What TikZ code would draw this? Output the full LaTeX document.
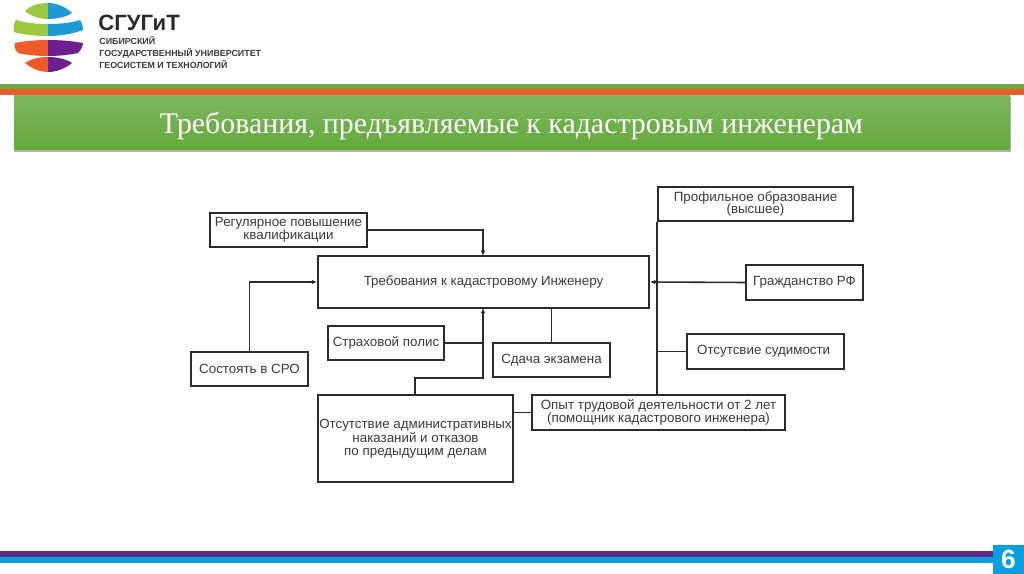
\documentclass[tikz,border=0pt]{standalone}
\usepackage{fontspec}
\setmainfont{Liberation Sans}
\newfontfamily\titlefont{Liberation Serif}
\usepackage{xcolor}
\usetikzlibrary{arrows.meta}
\definecolor{sgLime}{HTML}{9CC93E}
\definecolor{sgSky}{HTML}{1C9AD6}
\definecolor{sgOrange}{HTML}{EE5A28}
\definecolor{sgPurple}{HTML}{6E1F8F}
\definecolor{sgGreen}{HTML}{6AAB45}
\definecolor{sgGreenTop}{HTML}{7DB75F}
\definecolor{sgGreenLow}{HTML}{63A93A}
\definecolor{sgBlue}{HTML}{0B9FE0}
\definecolor{sgViolet}{HTML}{5F2D8C}
\definecolor{sgInk}{HTML}{2B2B2B}
\definecolor{sgText}{HTML}{3A3A3A}
\tikzset{
  reqbox/.style={draw=sgInk, line width=1.1pt, fill=white, text=sgText, inner sep=0pt,
    align=center, font=\fontsize{7.6}{7.1}\selectfont},
  link/.style={draw=sgInk, line width=0.9pt},
  linkto/.style={link, -{Latex[length=3pt,width=2.6pt]}}
}
\begin{document}
\begin{tikzpicture}[x=0.02cm,y=-0.02cm]
  \useasboundingbox (0,0) rectangle (1024,574);
  \fill[white] (0,0) rectangle (1024,574);

  % logo
  \fill[sgLime] (48,3) .. controls (38,3) and (30,6) .. (25,11) .. controls (31,16) and (39,19) .. (48,19) -- cycle;
  \fill[sgSky] (48,3) .. controls (58,3) and (67,8) .. (72,13) .. controls (66,17) and (57,19) .. (48,19) -- cycle;
  \fill[sgLime] (16,20) .. controls (26,23) and (37,24) .. (48,24) -- (48,36) .. controls (36,36) and (24,35) .. (14,32) .. controls (13,28) and (14,23) .. (16,20) -- cycle;
  \fill[sgSky] (48,24) .. controls (60,24) and (71,23) .. (80,20) .. controls (82,23) and (83,27) .. (83,30) .. controls (72,34) and (60,36) .. (48,36) -- cycle;
  \fill[sgOrange] (15,43) .. controls (25,41) and (37,40) .. (48,40) -- (48,56) .. controls (37,56) and (26,55) .. (18,53) .. controls (15,50) and (14,46) .. (15,43) -- cycle;
  \fill[sgPurple] (48,40) .. controls (60,40) and (72,41) .. (83,43) .. controls (83,46) and (81,50) .. (78,53) .. controls (69,55) and (58,56) .. (48,56) -- cycle;
  \fill[sgOrange] (48,57) .. controls (39,57) and (31,59) .. (25,63) .. controls (31,68) and (39,72) .. (48,72) -- cycle;
  \fill[sgPurple] (48,57) .. controls (57,57) and (66,59) .. (72,63) .. controls (66,68) and (57,72) .. (48,72) -- cycle;
  \node[anchor=west, inner sep=0pt, text=sgInk, font=\fontsize{12.6}{14}\selectfont\bfseries] (logoName) at (98,23) {СГУГиТ};
  \foreach \nm/\y/\t in {logoA/41/СИБИРСКИЙ, logoB/53.5/ГОСУДАРСТВЕННЫЙ УНИВЕРСИТЕТ, logoC/65/ГЕОСИСТЕМ И ТЕХНОЛОГИЙ} {
    \node[anchor=west, inner sep=0pt, text=sgText, font=\fontsize{5.05}{5.5}\selectfont\bfseries] (\nm) at (99,\y) {\t};
  }

  % header
  \fill[sgGreen] (0,84) rectangle (1024,89);
  \fill[sgOrange] (0,89) rectangle (1024,95);
  \fill[black!30] (14,97) rectangle (1011,152);
  \shade[top color=sgGreenTop, bottom color=sgGreenLow] (14,96) rectangle (1010,150);
  \node[text=white, inner sep=0pt, font=\titlefont\fontsize{17}{19}\selectfont] (title) at (511.5,126) {Требования, предъявляемые к кадастровым инженерам};

  % boxes
  \foreach \nm/\cx/\cy/\w/\h/\t in {
    reg/288.5/230/157/34/{Регулярное повышение\\квалификации},
    main/483.5/282/331/52/{Требования к кадастровому Инженеру},
    polis/386/343/116/34/{Страховой полис},
    sro/249.5/369/117/34/{Состоять в СРО},
    sdacha/551.5/360/117/34/{Сдача экзамена},
    admin/415.5/438.5/195/87/{Отсутствие административных\\наказаний и отказов\\по предыдущим делам},
    opyt/658.5/412.5/253/35/{Опыт трудовой деятельности от 2 лет\\(помощник кадастрового инженера)},
    profil/755.5/204/195/34/{Профильное образование\\(высшее)},
    grazh/804.5/282.5/117/35/{Гражданство РФ},
    sud/765.5/351.5/157/35/{Отсутсвие судимости}
  } {
    \node[reqbox, minimum width=\w*0.02cm, minimum height=\h*0.02cm] (\nm) at (\cx,\cy) {\t};
  }

  % connectors
  \coordinate (mainTop) at (483,256);
  \coordinate (mainLow) at (483,308);
  \coordinate (adminTop) at (415,395);
  \coordinate (bend) at (483,378);
  \draw[linkto] (reg.east) -| (mainTop);
  \draw[linkto] (sro.north) |- (main.west);
  \draw[linkto] (adminTop) |- (bend) -- (mainLow);
  \draw[link] (polis.east) -- (polis.east -| mainLow);
  \draw[link] (sdacha.north) -- (sdacha.north |- main.south);
  \draw[link] (opyt.west) -- (opyt.west -| admin.east);
  \draw[link] (profil.south west) -- (opyt.north -| profil.south west);
  \draw[linkto] (grazh.west) -- (main.east);
  \draw[link] (sud.west) -- (sud.west -| profil.south west);

  % footer
  \fill[sgViolet] (0,551) rectangle (993,557);
  \fill[sgBlue] (0,557) rectangle (993,563);
  \node[fill=sgBlue, text=white, inner sep=0pt, minimum width=31*0.02cm, minimum height=29*0.02cm,
        font=\fontsize{15}{16}\selectfont\bfseries] (pageNo) at (1008.5,559.5) {6};
\end{tikzpicture}
\end{document}
